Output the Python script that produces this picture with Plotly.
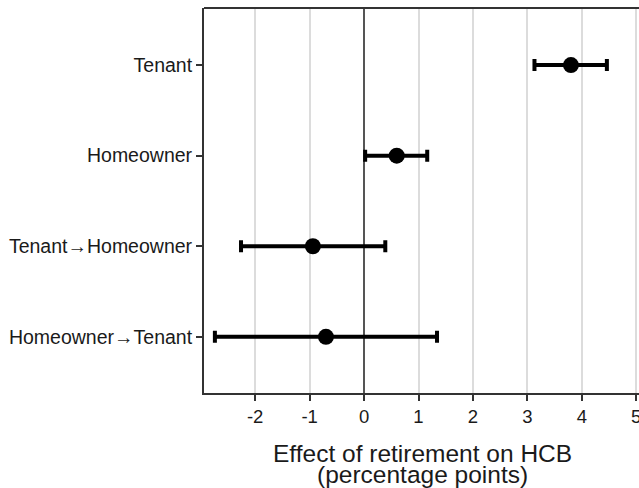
import plotly.graph_objects as go

# Groups, listed bottom to top
groups = ["Homeowner\u2192Tenant", "Tenant\u2192Homeowner", "Homeowner", "Tenant"]
estimate = [-0.70, -0.94, 0.60, 3.80]
ci_low = [-2.74, -2.26, 0.02, 3.13]
ci_high = [1.34, 0.39, 1.16, 4.46]
x_ticks = [-2, -1, 0, 1, 2, 3, 4, 5]
title_lines = ["Effect of retirement on HCB", "(percentage points)"]

err_plus = [h - e for h, e in zip(ci_high, estimate)]
err_minus = [e - l for e, l in zip(estimate, ci_low)]

fig = go.Figure()
fig.add_trace(go.Scatter(
    x=estimate,
    y=groups,
    mode="markers",
    marker=dict(color="black", size=16),
    error_x=dict(type="data", symmetric=False, array=err_plus, arrayminus=err_minus,
                 color="black", thickness=4, width=6),
    showlegend=False,
    cliponaxis=False,
))

font_family = "Liberation Sans, Arial, sans-serif"
text_color = "#1a1a1a"
tick_size = 18.5

# The last tick sits at the figure's right edge; its label is placed by hand
edge_tick = x_ticks[-1]
tick_text = [str(v) if v != edge_tick else "" for v in x_ticks]

fig.update_layout(
    template="none",
    width=639,
    height=488,
    margin=dict(l=204, r=0, t=8, b=95),
    paper_bgcolor="white",
    plot_bgcolor="white",
    font=dict(family=font_family, color=text_color),
    xaxis=dict(
        range=[-2.94, 5.05],
        tickvals=x_ticks,
        ticktext=tick_text,
        ticks="outside",
        ticklen=6,
        tickwidth=1.5,
        tickcolor="#333333",
        tickfont=dict(size=tick_size, family=font_family, color=text_color),
        showgrid=True,
        gridcolor="#dcdcdc",
        gridwidth=2,
        zeroline=True,
        zerolinecolor="#555555",
        zerolinewidth=1.5,
        showline=True,
        linecolor="#333333",
        linewidth=2,
        automargin=False,
    ),
    yaxis=dict(
        type="category",
        categoryorder="array",
        categoryarray=groups,
        range=[-0.62, 3.63],
        ticks="outside",
        ticklen=6,
        tickwidth=1.5,
        tickcolor="#333333",
        tickfont=dict(size=19.5, family=font_family, color=text_color),
        showgrid=False,
        zeroline=False,
        showline=True,
        linecolor="#333333",
        linewidth=2,
        automargin=False,
    ),
    shapes=[dict(type="line", xref="paper", yref="paper", x0=0, x1=1, y0=1, y1=1,
                 line=dict(color="#333333", width=2))],
)

fig.add_annotation(
    text=str(edge_tick), xref="x", yref="paper", x=edge_tick, y=-0.061,
    xanchor="center", yanchor="middle", showarrow=False,
    font=dict(size=tick_size, family=font_family, color=text_color),
)

# Two-line axis title, set tight
for line, ypos in zip(title_lines, [-0.156, -0.212]):
    fig.add_annotation(
        text=line, xref="paper", yref="paper", x=0.503, y=ypos,
        xanchor="center", yanchor="middle", showarrow=False,
        font=dict(size=24.5, family=font_family, color=text_color),
    )

fig.write_html("out.html")
